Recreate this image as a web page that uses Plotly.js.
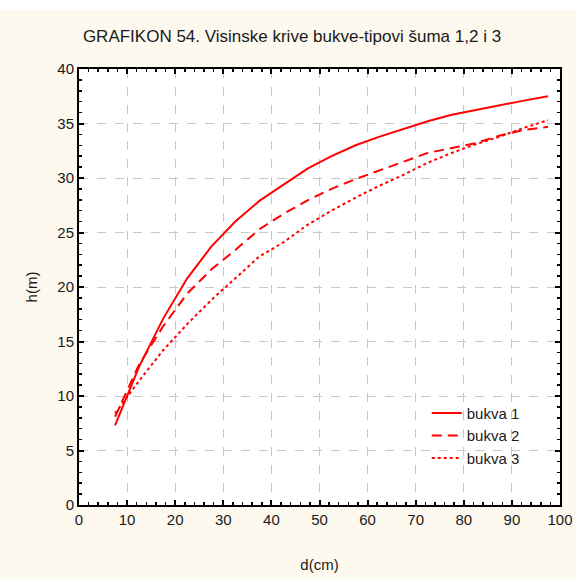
<!DOCTYPE html>
<html>
<head>
<meta charset="utf-8">
<script src="https://cdn.plot.ly/plotly-3.0.1.min.js"></script>
<style>
  html, body { margin: 0; padding: 0; background: #ffffff; }
  #chart { position: absolute; left: 0; top: 10px; width: 576px; height: 569px; }
</style>
</head>
<body>
<div id="chart"></div>
<script>
// Diameter class midpoints (cm)
const diameters = [7.5, 12.5, 17.5, 22.5, 27.5, 32.5, 37.5, 42.5, 47.5, 52.5, 57.5, 62.5, 67.5, 72.5, 77.5, 82.5, 87.5, 92.5, 97.5];
// Heights (m)
const bukva1 = [7.3, 12.7, 17.1, 20.8, 23.7, 26.0, 27.9, 29.4, 30.85, 32.0, 33.0, 33.8, 34.5, 35.2, 35.8, 36.25, 36.7, 37.1, 37.5];
const bukva2 = [8.1, 12.9, 16.4, 19.4, 21.6, 23.4, 25.3, 26.7, 27.95, 29.0, 29.9, 30.7, 31.55, 32.3, 32.75, 33.2, 33.9, 34.4, 34.7];
const bukva3 = [8.4, 11.4, 14.2, 16.6, 18.8, 20.8, 22.8, 24.1, 25.7, 27.0, 28.2, 29.3, 30.3, 31.4, 32.3, 33.1, 33.8, 34.6, 35.3];
const seriesNames = ["bukva 1", "bukva 2", "bukva 3"];
const xTicks = [0, 10, 20, 30, 40, 50, 60, 70, 80, 90, 100];
const yTicks = [0, 5, 10, 15, 20, 25, 30, 35, 40];

const font = { family: "Liberation Sans, Arial, sans-serif", size: 15, color: "#1a1a1a" };

const traces = [
  { x: diameters, y: bukva1, name: seriesNames[0], mode: "lines",
    line: { color: "#ff0000", width: 2, dash: "solid" } },
  { x: diameters, y: bukva2, name: seriesNames[1], mode: "lines",
    line: { color: "#ff0000", width: 2, dash: "10px,6px" } },
  { x: diameters, y: bukva3, name: seriesNames[2], mode: "lines",
    line: { color: "#ff0000", width: 2, dash: "dot" } }
];

const axisCommon = {
  showline: true, linecolor: "#000000", linewidth: 2, mirror: "allticks",
  ticks: "inside", ticklen: 5, tickwidth: 2, tickcolor: "#000000",
  showgrid: true, gridcolor: "#c8c8c8", gridwidth: 1, griddash: "dash",
  zeroline: false, tickfont: font
};

const layout = {
  width: 576, height: 569,
  paper_bgcolor: "#fdf9ee", plot_bgcolor: "#ffffff",
  margin: { l: 79, r: 16, t: 59, b: 74 },
  font: font,
  title: { text: "GRAFIKON 54. Visinske krive bukve-tipovi šuma 1,2 i 3",
           font: { family: font.family, size: 17, color: "#1a1a1a" },
           x: 292 / 576, xanchor: "center", xref: "container", y: 1 - 26 / 569, yanchor: "middle", yref: "container" },
  xaxis: Object.assign({}, axisCommon, {
    range: [0, 100], tickvals: xTicks, ticktext: xTicks.map(String),
    minor: { dtick: 2, ticks: "inside", ticklen: 3, tickwidth: 1.5, tickcolor: "#000000", showgrid: false },
    title: { text: "d(cm)", font: font, standoff: 32 }
  }),
  yaxis: Object.assign({}, axisCommon, {
    range: [0, 40], tickvals: yTicks, ticktext: yTicks.map(String),
    minor: { dtick: 1, ticks: "inside", ticklen: 3, tickwidth: 1.5, tickcolor: "#000000", showgrid: false },
    title: { text: "h(m)", font: font, standoff: 16 }
  }),
  legend: {
    x: 0.723, xanchor: "left", y: 0.248, yanchor: "top",
    bgcolor: "rgba(0,0,0,0)", borderwidth: 0, font: font,
    tracegroupgap: 0, itemwidth: 30
  },
  showlegend: true
};

Plotly.newPlot("chart", traces, layout, { displayModeBar: false, staticPlot: true });
</script>
</body>
</html>
